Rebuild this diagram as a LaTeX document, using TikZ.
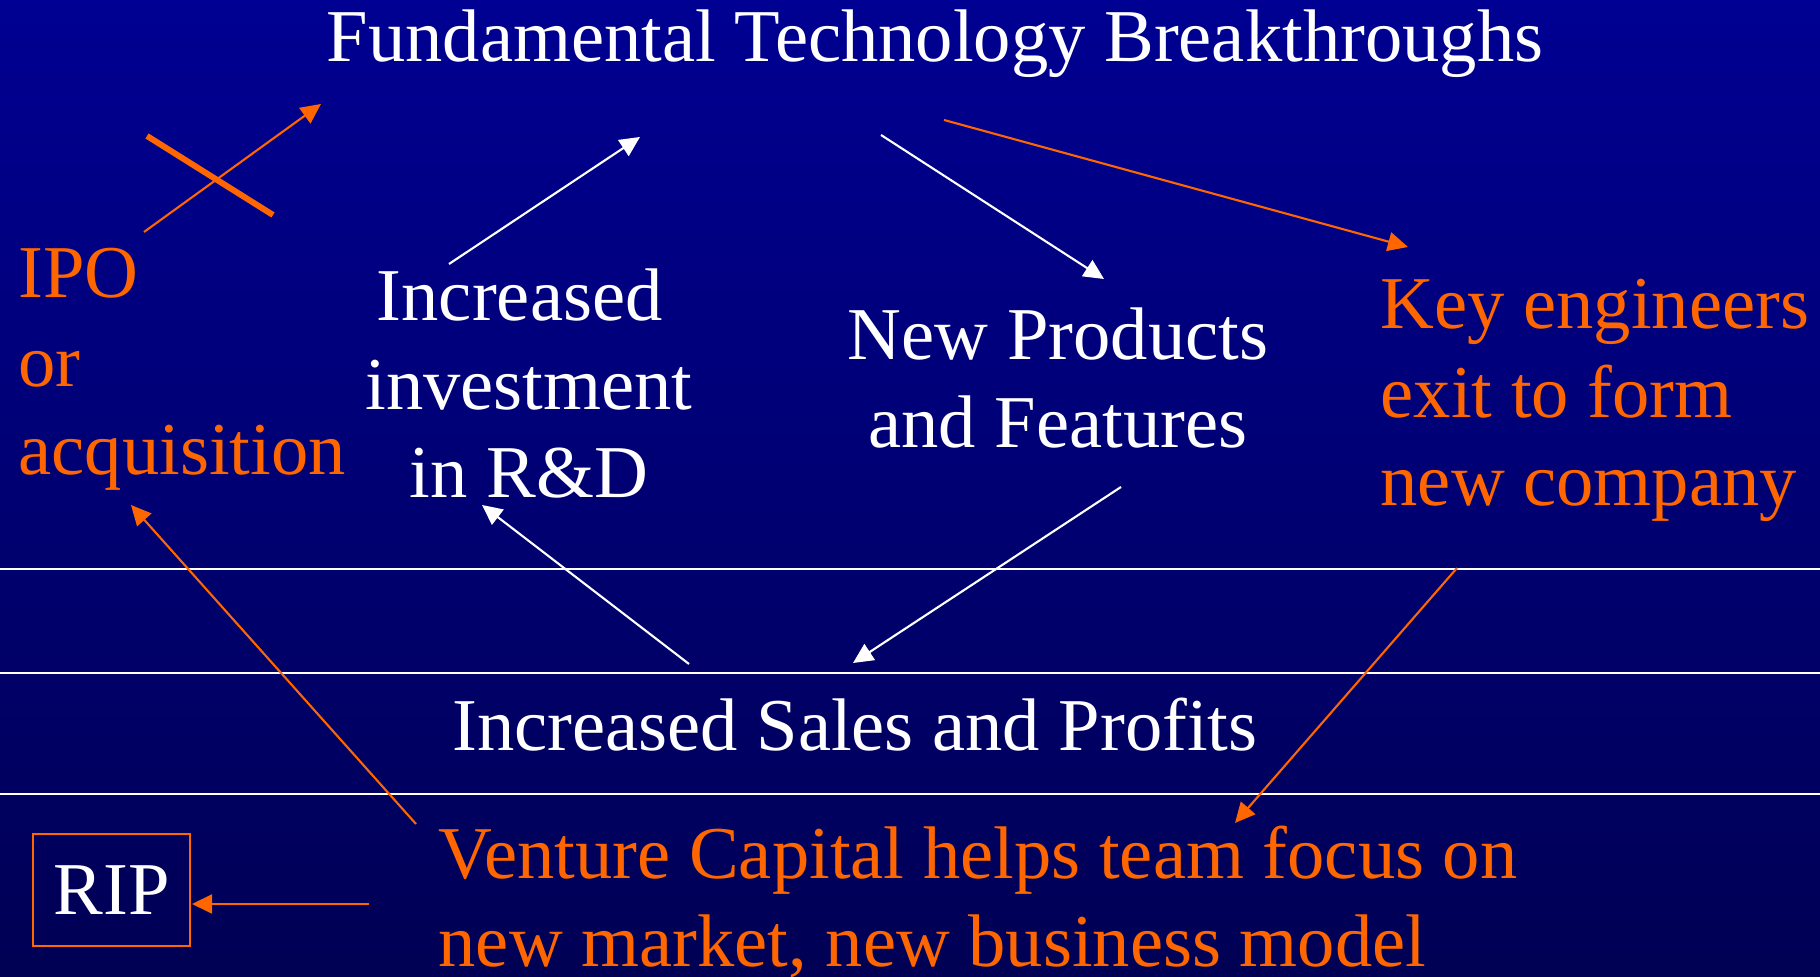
\documentclass[tikz,border=0pt]{standalone}
\usepackage{fontspec}
\setmainfont{Liberation Serif}
\usetikzlibrary{arrows.meta}

\definecolor{fondo1}{RGB}{0,0,146}
\definecolor{fondo2}{RGB}{0,0,136}
\definecolor{fondo3}{RGB}{0,0,84}
\definecolor{naranja}{RGB}{255,102,0}

\tikzset{
  texto/.style={font=\fontsize{21.2}{25.3}\selectfont, inner sep=0pt},
  flecha/.style={line width=0.6pt, -{Triangle[length=5.7pt,width=5.4pt]}},
}

\begin{document}
\begin{tikzpicture}[line join=miter, x=0.01cm, y=-0.01cm]

  % Fondo degradado
  \shade[top color=fondo1, middle color=fondo2, bottom color=fondo3] (0,0) rectangle (1820,977);
  \useasboundingbox (0,0) rectangle (1820,977);

  % Bandas horizontales
  \foreach \y in {569,673,794}
  \draw[white, line width=0.4pt] (0,\y) -- (1820,\y);

  % Textos (anclados en la linea base de la ultima linea)
  \node[texto, white, anchor=base] (titulo) at (935,62) {Fundamental Technology Breakthroughs};
  \node[texto, naranja, anchor=base west, align=left] (ipo) at (18,475) {IPO\\or\\acquisition};
  \node[texto, white, anchor=base, align=center] (inversion) at (529,498) {Increased\hspace*{.25em}\\investment\\in R\&D};
  \node[texto, white, anchor=base, align=center] (productos) at (1058,448) {New Products\\and Features};
  \node[texto, naranja, anchor=base west, align=left] (ingenieros) at (1380,506) {Key engineers\\exit to form\\new company};
  \node[texto, white, anchor=base] (ventas) at (855,751) {Increased Sales and Profits};
  \node[texto, naranja, anchor=base west, align=left] (capital) at (438,967) {Venture Capital helps team focus on\\new market, new business model};
  \node[texto, white, draw=naranja, line width=0.6pt, minimum width=1.57cm, minimum height=1.12cm] (rip) at (111.5,890) {RIP};

  % Extremos de las flechas
  \coordinate (ipo-ini) at (144,232);   \coordinate (ipo-fin) at (321,104);
  \coordinate (inv-ini) at (449,264);   \coordinate (inv-fin) at (640,137);
  \coordinate (np-ini) at (881,135);    \coordinate (np-fin) at (1104,279);
  \coordinate (ke-ini) at (944,120);    \coordinate (ke-fin) at (1408,247);
  \coordinate (npb-ini) at (1121,487);  \coordinate (sal-fin) at (853,663);
  \coordinate (sal-ini) at (689,664);   \coordinate (invb-fin) at (482,505);
  \coordinate (vc-ini) at (416,824);    \coordinate (ipob-fin) at (131,505);
  \coordinate (keb-ini) at (1457,568);  \coordinate (vc-fin) at (1235,823);
  \coordinate (vcb-ini) at (369,904);   \coordinate (rip-fin) at (192,904);

  % Flechas blancas (ciclo)
  \foreach \a/\b in {inv-ini/inv-fin, np-ini/np-fin, npb-ini/sal-fin, sal-ini/invb-fin}
  \draw[flecha, white] (\a) -- (\b);

  % Flechas naranjas
  \foreach \a/\b in {ipo-ini/ipo-fin, ke-ini/ke-fin, vc-ini/ipob-fin, keb-ini/vc-fin, vcb-ini/rip-fin}
  \draw[flecha, naranja] (\a) -- (\b);

  % Cruz sobre la flecha de IPO
  \draw[naranja, line width=1.7pt] (147,136) -- (273,215);

\end{tikzpicture}
\end{document}
